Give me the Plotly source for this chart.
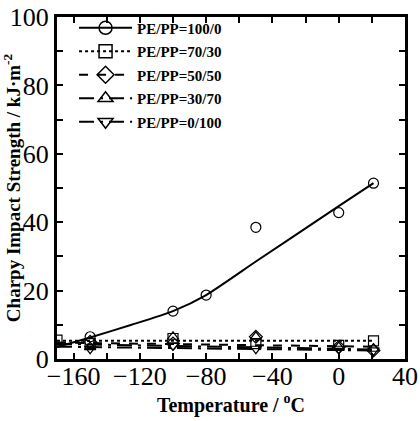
import plotly.graph_objects as go

temps = [-150, -100, -80, -50, 0, 21]
pe100 = [6.5, 14, 18.7, 38.5, 42.8, 51.4]
fit100_x = [-170, -150, -125, -100, -80, -50, 0, 21]
fit100_y = [3.5, 6.3, 10, 14, 18.7, 28.5, 44.7, 51.4]

temps70 = [-170, -150, -100, -50, 0, 21]
pe70 = [5.5, 4.5, 6, 4.5, 4, 5.3]
fit70_y = [5.3, 5.3]

temps_b = [-150, -100, -50, 0, 21]
pe50 = [5, 4.5, 6.5, 3.5, 2.5]
fit50_y = [4.8, 3.6]
pe30 = [3.5, 6.5, 6.5, 3.5, 3]
fit30_y = [4.4, 2.8]
pe0 = [3, 4, 3, 3, 2.5]
fit0_y = [3.6, 2.5]
fit_x = [-170, 21]

names = ["PE/PP=100/0", "PE/PP=70/30", "PE/PP=50/50", "PE/PP=30/70", "PE/PP=0/100"]
symbols = ["circle-open", "square-open", "diamond-open", "triangle-up-open", "triangle-down-open"]
dashes = ["solid", "dot", "dash", "longdashdot", "longdashdot"]

series = [
    (temps, pe100, fit100_x, fit100_y),
    (temps70, pe70, fit_x, fit70_y),
    (temps_b, pe50, fit_x, fit50_y),
    (temps_b, pe30, fit_x, fit30_y),
    (temps_b, pe0, fit_x, fit0_y),
]

fig = go.Figure()
for i, (sx, sy, fx, fy) in enumerate(series):
    fig.add_trace(go.Scatter(x=fx, y=fy, mode="lines", showlegend=False,
                             line=dict(color="black", width=2, dash=dashes[i],
                                       shape="spline" if i == 0 else "linear", smoothing=0.6)))
    fig.add_trace(go.Scatter(x=sx, y=sy, mode="markers", showlegend=False,
                             marker=dict(symbol=symbols[i], size=10, color="black",
                                         line=dict(width=1.2, color="black"))))
    fig.add_trace(go.Scatter(x=[None], y=[None], mode="lines+markers", name=names[i],
                             legendgroup="g%d" % i,
                             line=dict(color="black", width=2, dash=dashes[i]),
                             marker=dict(symbol=symbols[i], size=13, color="black",
                                         line=dict(width=1.5, color="black"))))

font = "Liberation Serif"
fig.update_layout(
    width=420, height=421,
    margin=dict(l=57, r=15, t=13, b=62),
    paper_bgcolor="white", plot_bgcolor="white",
    font=dict(family=font, color="black"),
    showlegend=True,
    legend=dict(x=0.049, y=1.016, xanchor="left", yanchor="top", bgcolor="rgba(0,0,0,0)",
                font=dict(family=font, size=15, color="black", weight="bold"),
                tracegroupgap=1, itemwidth=53),
    xaxis=dict(range=[-170, 40], tick0=-160, dtick=40, ticks="inside", ticklen=6,
               tickwidth=1.5, tickcolor="black", automargin=False, ticklabelstandoff=-8,
               minor=dict(dtick=20, tick0=-160, ticks="inside", ticklen=6, tickwidth=1.5, tickcolor="black"),
               showline=True, linewidth=3, linecolor="black", mirror="ticks",
               showgrid=False, zeroline=False,
               tickfont=dict(family=font, size=26, color="black"),
               title=dict(text="<b>Temperature / <sup>o</sup>C</b>", font=dict(family=font, size=20), standoff=2)),
    yaxis=dict(range=[0, 100], dtick=20, ticks="inside", ticklen=6,
               tickwidth=1.5, tickcolor="black", automargin=False,
               minor=dict(dtick=10, ticks="inside", ticklen=6, tickwidth=1.5, tickcolor="black"),
               showline=True, linewidth=3, linecolor="black", mirror="ticks",
               showgrid=False, zeroline=False,
               tickfont=dict(family=font, size=26, color="black"),
               title=dict(text="<b>Charpy Impact Strength / kJ·m<sup>-2</sup></b>", font=dict(family=font, size=19), standoff=0)),
)

fig.write_html("out.html")
